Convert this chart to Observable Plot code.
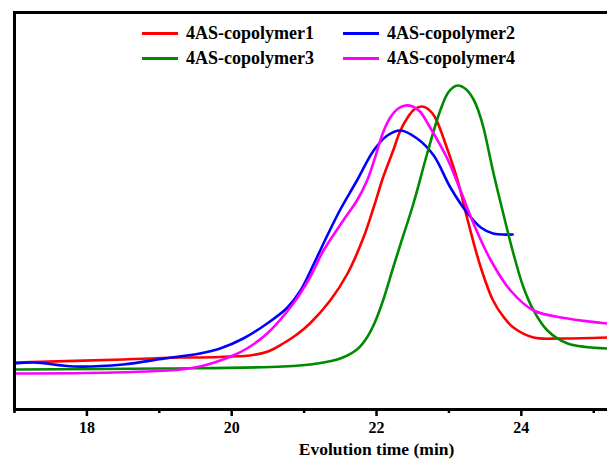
<!DOCTYPE html>
<html>
<head>
<meta charset="utf-8">
<script src="https://cdn.jsdelivr.net/npm/d3@7"></script>
<script src="https://cdn.jsdelivr.net/npm/@observablehq/plot@0.6"></script>
<style>
  body { margin: 0; background: #fff; }
  #wrap { position: relative; width: 607px; height: 463px; overflow: hidden; }
  #legend { position: absolute; left: 0; top: 0; font-family: "Liberation Serif", "Times New Roman", serif; font-weight: bold; font-size: 18px; color: #000; }
  .item { position: absolute; display: flex; align-items: center; white-space: nowrap; }
  .swatch { display: inline-block; width: 36px; height: 3px; margin-right: 8px; }
</style>
</head>
<body>
<div id="wrap"><div id="legend"></div></div>
<script>
// Evolution time (min) and detector response (a.u.)
const seriesNames = ["4AS-copolymer1", "4AS-copolymer2", "4AS-copolymer3", "4AS-copolymer4"];
const seriesColors = ["#ff0000", "#0000ff", "#008a00", "#ff00ff"];

const c1Time = [17.0, 18.5, 19.3, 19.56, 20.0, 20.25, 20.5, 20.71, 20.9, 21.08, 21.36, 21.60, 21.82, 21.96, 22.09, 22.23, 22.33, 22.43, 22.52, 22.63, 22.72, 22.81, 22.97, 23.12, 23.26, 23.44, 23.61, 23.75, 23.89, 24.17, 24.54, 25.19];
const c1Resp = [47, 50, 52, 52, 53, 54, 58, 66, 75, 86, 109, 136, 172, 202, 232, 259, 279, 292, 300, 303, 300, 292, 262, 229, 189, 142, 109, 93, 82, 72, 71, 72];

const c2Time = [17.0, 17.27, 17.82, 18.5, 19.07, 19.56, 19.84, 20.16, 20.49, 20.77, 20.95, 21.13, 21.32, 21.50, 21.73, 21.96, 22.15, 22.33, 22.56, 22.79, 23.02, 23.26, 23.44, 23.61, 23.88];
const c2Resp = [46, 47, 43, 45, 51, 56, 61, 71, 86, 102, 119, 145, 174, 200, 229, 259, 274, 279, 271, 254, 222, 196, 182, 176, 175];

const c3Time = [17.0, 19.0, 20.71, 21.18, 21.50, 21.73, 21.85, 21.97, 22.09, 22.23, 22.33, 22.51, 22.70, 22.88, 23.0, 23.12, 23.24, 23.34, 23.41, 23.48, 23.61, 23.75, 23.89, 24.03, 24.17, 24.36, 24.64, 25.19];
const c3Resp = [40, 41, 43, 46, 51, 60, 70, 86, 109, 142, 165, 206, 256, 299, 318, 324, 320, 310, 298, 281, 238, 196, 156, 122, 99, 79, 66, 61];

const c4Time = [17.0, 18.37, 19.30, 19.56, 19.76, 20.02, 20.21, 20.49, 20.85, 21.08, 21.26, 21.54, 21.73, 21.87, 21.98, 22.09, 22.19, 22.30, 22.40, 22.50, 22.60, 22.74, 22.97, 23.16, 23.34, 23.58, 23.85, 24.17, 24.64, 25.19];
const c4Resp = [36, 37, 40, 43, 47, 54, 61, 76, 106, 132, 158, 189, 209, 229, 252, 277, 292, 301, 304, 303, 298, 282, 252, 219, 186, 149, 119, 99, 91, 86];

const majorTicks = [18, 20, 22, 24];
const minorTicks = [17, 19, 21, 23, 25];
const xLabel = "Evolution time (min)";

const times = [c1Time, c2Time, c3Time, c4Time];
const resps = [c1Resp, c2Resp, c3Resp, c4Resp];
const data = [];
seriesNames.forEach((name, i) => {
  times[i].forEach((t, j) => data.push({series: name, t, r: resps[i][j]}));
});

const font = '"Liberation Serif", "Times New Roman", serif';

const chart = Plot.plot({
  width: 607,
  height: 463,
  marginTop: 12,
  marginLeft: 14,
  marginRight: 0,
  marginBottom: 54,
  style: {fontFamily: font, fontSize: "16px", fontWeight: "bold", color: "#000", background: "#fff", overflow: "visible"},
  x: {domain: [17, 25.19]},
  y: {domain: [0, 397], axis: null},
  color: {domain: seriesNames, range: seriesColors},
  marks: [
    Plot.line(data, {x: "t", y: "r", z: "series", stroke: "series", strokeWidth: 2.6, curve: "catmull-rom"}),
    Plot.axisX({ticks: minorTicks, tickSize: 4, tickFormat: () => "", strokeWidth: 2.5, label: null}),
    Plot.axisX({ticks: majorTicks, tickSize: 7, tickPadding: 5, strokeWidth: 2.5, label: null, fontSize: 16, fontWeight: "bold"}),
    Plot.frame({anchor: "bottom", stroke: "#000", strokeWidth: 3}),
    Plot.frame({anchor: "top", stroke: "#000", strokeWidth: 3}),
    Plot.frame({anchor: "left", stroke: "#000", strokeWidth: 3}),
    Plot.text([xLabel], {x: 22.0, frameAnchor: "bottom", dy: 45, fontSize: 17.5, fontWeight: "bold", fill: "#000"})
  ]
});

const wrap = document.getElementById("wrap");
wrap.insertBefore(chart, wrap.firstChild);

// legend
const legend = document.getElementById("legend");
const pos = [[142, 33], [343, 33], [142, 58], [343, 58]];
seriesNames.forEach((name, i) => {
  const it = document.createElement("div");
  it.className = "item";
  it.style.left = pos[i][0] + "px";
  it.style.top = (pos[i][1] - 11) + "px";
  it.style.height = "22px";
  const sw = document.createElement("span");
  sw.className = "swatch";
  sw.style.background = seriesColors[i];
  const tx = document.createElement("span");
  tx.textContent = name;
  it.appendChild(sw);
  it.appendChild(tx);
  legend.appendChild(it);
});
</script>
</body>
</html>
